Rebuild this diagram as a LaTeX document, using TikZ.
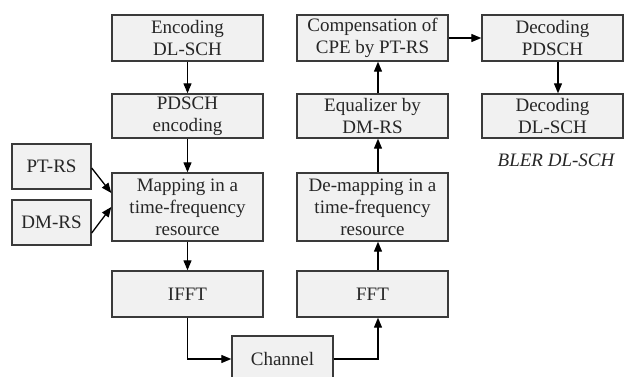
\documentclass[tikz,border=0pt]{standalone}
\usepackage{fontspec}
\setmainfont{Liberation Serif}
\newfontfamily\tms{Liberation Serif}
\usetikzlibrary{arrows.meta}
\definecolor{boxfill}{HTML}{F1F1F1}
\definecolor{boxline}{HTML}{3A3A3A}
\begin{document}
\begin{tikzpicture}[x=1pt,y=-1pt,
  blk/.style={draw=boxline,fill=boxfill,line width=1.4pt,align=center,inner sep=0pt,
    font=\tms\fontsize{19}{22}\selectfont,text=black!85},
  conn/.style={draw=black,line width=1.3pt,-{Triangle[length=10pt,width=8pt]}}]
\useasboundingbox (0,0) rectangle (625,377);
\fill[white] (0,0) rectangle (625,377);
% left column
\node[blk,minimum width=151pt,minimum height=46pt] (enc) at (187.5,38) {Encoding\\DL-SCH};
\node[blk,minimum width=151pt,minimum height=44pt] (penc) at (187.5,116) {PDSCH\\encoding};
\node[blk,minimum width=151pt,minimum height=68pt] (map) at (187.5,207) {Mapping in a\\time-frequency\\resource};
\node[blk,minimum width=151pt,minimum height=46pt] (ifft) at (187.5,294) {IFFT};
\node[blk,minimum width=101pt,minimum height=46pt] (chan) at (282.5,359) {Channel};
\node[blk,minimum width=79pt,minimum height=45pt] (ptrs) at (51.5,166.5) {PT-RS};
\node[blk,minimum width=79pt,minimum height=45pt] (dmrs) at (51.5,222.5) {DM-RS};
% right column
\node[blk,minimum width=151pt,minimum height=46pt] (comp) at (372.5,38) {Compensation of\\CPE by PT-RS};
\node[blk,minimum width=151pt,minimum height=44pt] (eq) at (372.5,116) {Equalizer by\\DM-RS};
\node[blk,minimum width=151pt,minimum height=68pt] (demap) at (372.5,207) {De-mapping in a\\time-frequency\\resource};
\node[blk,minimum width=151pt,minimum height=46pt] (fft) at (372.5,294) {FFT};
\node[blk,minimum width=141pt,minimum height=46pt] (decp) at (552.5,38) {Decoding\\PDSCH};
\node[blk,minimum width=141pt,minimum height=44pt] (decd) at (552.5,116) {Decoding\\DL-SCH};
\node[font=\tms\fontsize{19}{22}\selectfont\itshape,text=black!85] (bler) at (556,160) {BLER DL-SCH};
% connectors
\draw[conn] (enc) -- (penc);
\draw[conn] (penc) -- (map);
\draw[conn] (map) -- (ifft);
\draw[conn] (ifft.south) |- (chan.west);
\draw[conn] ([yshift=-1.5pt]ptrs.east) -- ([yshift=14pt]map.west);
\draw[conn] ([yshift=-10.5pt]dmrs.east) -- (map.west);
\draw[conn] (chan.east) -| ([xshift=5.5pt]fft.south);
\draw[conn] ([xshift=5.5pt]fft.north) -- ([xshift=5.5pt]demap.south);
\draw[conn] ([xshift=5.5pt]demap.north) -- ([xshift=5.5pt]eq.south);
\draw[conn] ([xshift=5.5pt]eq.north) -- ([xshift=5.5pt]comp.south);
\draw[conn] (comp.east) -- (decp.west);
\draw[conn] ([xshift=5.5pt]decp.south) -- ([xshift=5.5pt]decd.north);
\end{tikzpicture}
\end{document}
